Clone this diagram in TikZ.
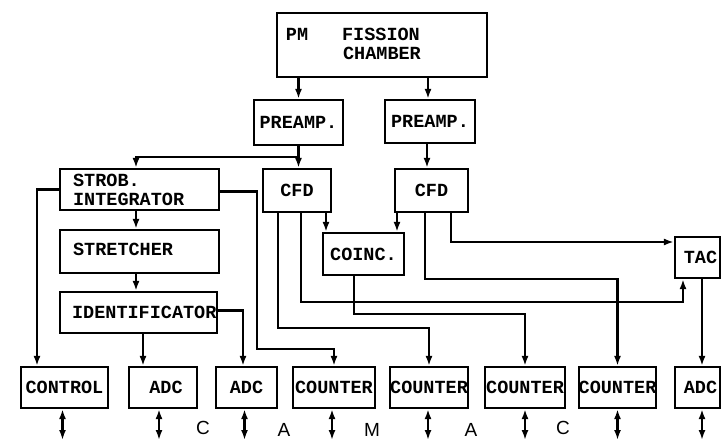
\documentclass[tikz,border=0pt]{standalone}
\usepackage{fontspec}
\setmainfont{Liberation Mono}
\newfontfamily\handfont{Liberation Sans}
\usetikzlibrary{arrows.meta}
\begin{document}
\begin{tikzpicture}[x=1pt,y=-1pt, line width=2.2pt,
  box/.style={draw, rectangle, inner sep=0pt, font=\bfseries\fontsize{18.5}{19}\selectfont},
  lbl/.style={inner sep=0pt, font=\bfseries\fontsize{18.5}{19}\selectfont},
  camac/.style={inner sep=0pt, font=\handfont\fontsize{19}{19}\selectfont},
  arr/.style={-{Latex[length=10pt,width=7pt]}},
  darr/.style={{Latex[length=10pt,width=7pt]}-{Latex[length=10pt,width=7pt]}}]
\useasboundingbox (0,0) rectangle (722,441);

% boxes
\node[box, minimum width=210pt, minimum height=64pt] (pm) at (382,45) {};
\node[lbl] (pmt) at (297,34) {PM};
\node[lbl] (fis) at (381,34) {FISSION};
\node[lbl] (cha) at (382,53) {CHAMBER};
\node[box, minimum width=89pt, minimum height=45pt] (pre1) at (298.5,122.5) {PREAMP.};
\node[box, minimum width=90pt, minimum height=43pt] (pre2) at (430,121.5) {PREAMP.};
\node[box, minimum width=159pt, minimum height=41pt] (strob) at (139.5,189.5) {};
\node[lbl, anchor=west, align=left] (strobt) at (72,190) {STROB.\\INTEGRATOR};
\node[box, minimum width=68pt, minimum height=43pt] (cfd1) at (297,190.5) {CFD};
\node[box, minimum width=73pt, minimum height=43pt] (cfd2) at (431.5,190.5) {CFD};
\node[box, minimum width=159pt, minimum height=43pt] (stret) at (139.5,251.5) {};
\node[lbl, anchor=west] (strett) at (72,249) {STRETCHER};
\node[box, minimum width=157pt, minimum height=41pt] (ident) at (138.5,312.5) {};
\node[lbl, anchor=west] (identt) at (71,312) {IDENTIFICATOR};
\node[box, minimum width=81pt, minimum height=42pt] (coinc) at (363.5,254) {COINC.};
\node[box, minimum width=45pt, minimum height=41pt] (tac) at (697.5,257.5) {\hspace{6pt}TAC};
\node[box, minimum width=87pt, minimum height=41pt] (control) at (64.5,387.5) {CONTROL};
\node[box, minimum width=68pt, minimum height=41pt] (adc1) at (163,387.5) {\hspace{6pt}ADC};
\node[box, minimum width=61pt, minimum height=41pt] (adc2) at (246.5,387.5) {ADC};
\node[box, minimum width=82pt, minimum height=41pt] (cnt1) at (334,387.5) {COUNTER};
\node[box, minimum width=78pt, minimum height=41pt] (cnt2) at (429,387.5) {COUNTER};
\node[box, minimum width=80pt, minimum height=41pt] (cnt3) at (525,387.5) {COUNTER};
\node[box, minimum width=75pt, minimum height=41pt] (cnt4) at (617.5,387.5) {COUNTER};
\node[box, minimum width=45pt, minimum height=41pt] (adc3) at (697.5,387.5) {\hspace{6pt}ADC};

% helper coordinates
\coordinate (j1) at (298,157);
\coordinate (colA) at (136,0);
\coordinate (colB) at (143,0);
\coordinate (ctlx) at (37,0);
\coordinate (w1) at (257,349);
\coordinate (w2) at (243,315);
\coordinate (a1) at (278,328);
\coordinate (a2) at (301,302);
\coordinate (a3) at (354,314);
\coordinate (a4) at (425,279);
\coordinate (a5) at (451,242);
\coordinate (b1) at (326,0);
\coordinate (b2) at (397,0);
\coordinate (tacin) at (683,0);
\coordinate (c7) at (702,0);
\coordinate (bot) at (0,440);

% top part
\draw[arr] (pre1.north |- pm.south) -- (pre1.north);
\draw[arr] ([xshift=-2pt]pre2.north |- pm.south) -- ([xshift=-2pt]pre2.north);
\draw[arr] (pre1.south) -- (pre1.south |- cfd1.north);
\draw[arr] (j1) -| (strob.north -| colA);
\draw[arr] ([xshift=-3pt]pre2.south) -- ([xshift=-3pt]pre2.south |- cfd2.north);

% left chain
\draw[arr] (strob.south -| colA) -- (stret.north -| colA);
\draw[arr] (stret.south -| colA) -- (ident.north -| colA);
\draw[arr] (ident.south -| colB) -- (adc1.north -| colB);
\draw[arr] ([yshift=2pt]ident.east) -| (adc2.north -| w2);
\draw[arr] (strob.west) -- (strob.west -| ctlx) -- (control.north -| ctlx);
\draw[arr] ([yshift=-2pt]strob.east) -| (w1) -| (cnt1.north);

% CFD / COINC wiring
\draw[arr] (cfd1.south -| b1) -- (coinc.north -| b1);
\draw[arr] (cfd2.south -| b2) -- (coinc.north -| b2);
\draw[arr] (cfd1.south -| a1) -- (a1) -| (cnt2.north);
\draw[arr] (cfd1.south -| a2) -- (a2) -| (tac.south -| tacin);
\draw[arr] (coinc.south -| a3) -- (a3) -| (cnt3.north);
\draw[arr] (cfd2.south -| a4) -- (a4) -| (cnt4.north);
\draw[arr] (cfd2.south -| a5) -- (a5) -- (a5 -| tac.west);
\draw[arr] (tac.south -| c7) -- (adc3.north -| c7);

% bottom bus arrows
\draw[darr] ([xshift=-2pt]control.south) -- ([xshift=-2pt]control.south |- bot);
\draw[darr] ([xshift=-4pt]adc1.south) -- ([xshift=-4pt]adc1.south |- bot);
\draw[darr] ([xshift=-2pt]adc2.south) -- ([xshift=-2pt]adc2.south |- bot);
\draw[darr] ([xshift=-2pt]cnt1.south) -- ([xshift=-2pt]cnt1.south |- bot);
\draw[darr] ([xshift=-1pt]cnt2.south) -- ([xshift=-1pt]cnt2.south |- bot);
\draw[darr] (cnt3.south) -- (cnt3.south |- bot);
\draw[darr] (cnt4.south) -- (cnt4.south |- bot);
\draw[darr] (adc3.south -| c7) -- (c7 |- bot);

% CAMAC letters
\node[camac] (l1) at (203,428) {C};
\node[camac] (l2) at (284,430) {A};
\node[camac] (l3) at (372,430) {M};
\node[camac] (l4) at (471,430) {A};
\node[camac] (l5) at (563,428) {C};
\end{tikzpicture}
\end{document}
